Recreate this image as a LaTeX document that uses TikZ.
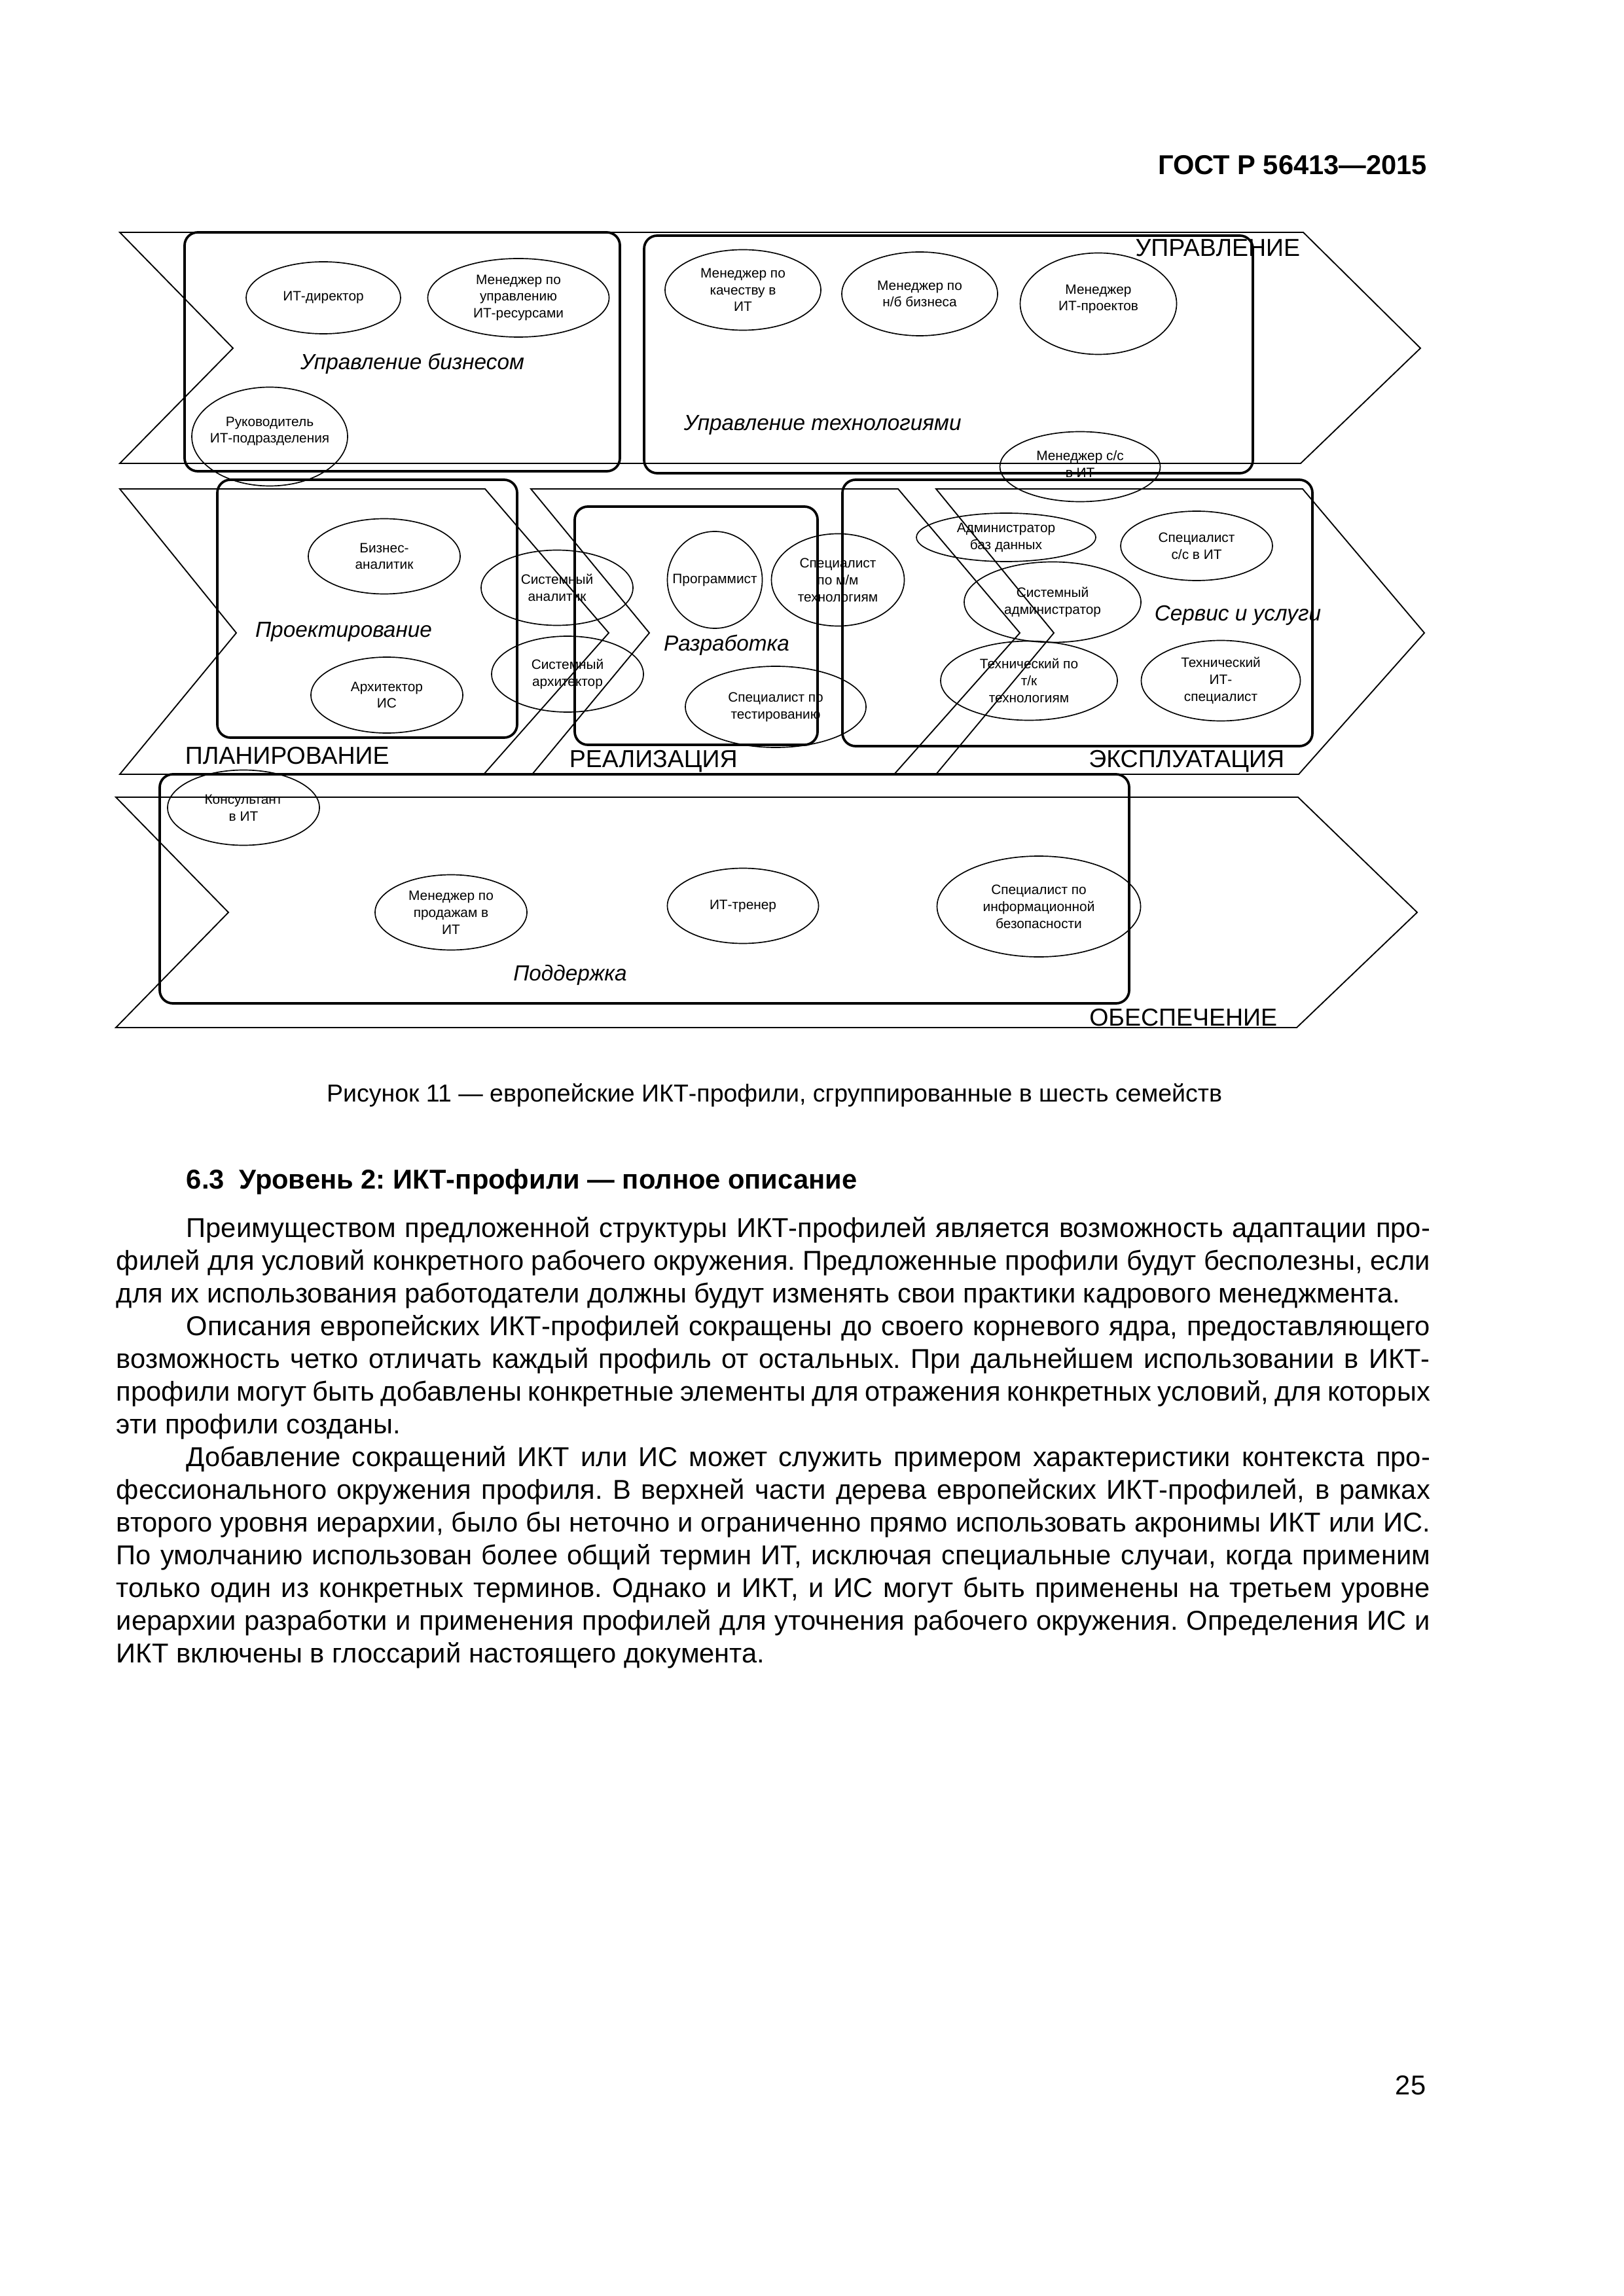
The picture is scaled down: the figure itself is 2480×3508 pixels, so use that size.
\documentclass[tikz,border=0pt]{standalone}
\usepackage{fontspec}
\setmainfont{Liberation Sans}
\usetikzlibrary{shapes.geometric}
\frenchspacing
\newcommand\prof[6][0]{%
  \node[E={#4}{#5}] (#2) at (#3) {};
  \node[ptext] (#2t) at ([yshift=#1*0.24pt]#2.center) {#6};}
\begin{document}
\begin{tikzpicture}[x=0.24pt,y=-0.24pt,
  band/.style={draw, line width=0.45pt, line join=miter},
  grp/.style={draw, line width=0.9pt, rounded corners=4.8pt},
  E/.style 2 args={ellipse, draw, line width=0.4pt, inner sep=0pt,
    minimum width=#1*0.24pt, minimum height=#2*0.24pt},
  ptext/.style={inner sep=0pt, align=center, font=\fontsize{5}{6.2}\selectfont},
  big/.style={font=\fontsize{9}{10}\selectfont, inner sep=0pt},
  fam/.style={font=\fontsize{8}{9}\selectfont\itshape, inner sep=0pt},
  body/.style={font=\fontsize{10}{12}\selectfont, inner sep=0pt, anchor=base west},
  plain/.style={font=\fontsize{10}{12}\selectfont, inner sep=0pt},
]
\useasboundingbox (0,0) rectangle (2480,3508);

% header
\node[plain, font=\fontsize{10}{12}\selectfont\bfseries, anchor=base east] (hdr) at (2181,267) {ГОСТ Р 56413—2015};

% ---------- bands ----------
\draw[band] (183,355) -- (1991,355) -- (2170,532) -- (1987,708) -- (183,708) -- (356,532) -- cycle;
\draw[band] (183,747) -- (741,747) -- (930,967) -- (739,1183) -- (183,1183) -- (361,967) -- cycle;
\draw[band] (811,747) -- (1372,747) -- (1558,967) -- (1366,1183) -- (813,1183) -- (992,967) -- cycle;
\draw[band] (1430,747) -- (1990,747) -- (2176,967) -- (1984,1183) -- (1430,1183) -- (1610,967) -- cycle;
\draw[band] (177,1218) -- (1983,1218) -- (2165,1394) -- (1981,1570) -- (177,1570) -- (349,1394) -- cycle;

% ---------- group boxes ----------
\draw[grp] (282,355) rectangle (947,720);
\draw[grp] (984,360) rectangle (1914,723);
\draw[grp] (332,733) rectangle (790,1127);
\draw[grp] (878,774) rectangle (1249,1138);
\draw[grp] (1287,733) rectangle (2005,1140);
\draw[grp] (244,1183) rectangle (1725,1533);

% ---------- band labels ----------
\node[big, anchor=base east] (lupr) at (1987,392) {УПРАВЛЕНИЕ};
\node[big, anchor=base west] (lplan) at (282,1167) {ПЛАНИРОВАНИЕ};
\node[big, anchor=base west] (lreal) at (869,1172) {РЕАЛИЗАЦИЯ};
\node[big, anchor=base east] (lexp) at (1963,1172) {ЭКСПЛУАТАЦИЯ};
\node[big, anchor=base east] (lobe) at (1952,1567) {ОБЕСПЕЧЕНИЕ};

% ---------- family labels ----------
\node[fam, anchor=base] (fbiz) at (630,565) {Управление бизнесом};
\node[fam, anchor=base west] (ftech) at (1044,658) {Управление технологиями};
\node[fam, anchor=base] (fproj) at (525,973) {Проектирование};
\node[fam, anchor=base] (fdev) at (1110,995) {Разработка};
\node[fam, anchor=base west] (fserv) at (1763,949) {Сервис и услуги};
\node[fam, anchor=base] (fsup) at (871,1498) {Поддержка};

% ---------- profiles ----------
\prof{e1}{494,455}{236}{110}{ИТ-директор}
\prof{e2}{792,455}{277}{120}{Менеджер по\\управлению\\ИТ-ресурсами}
\prof[8]{e3}{412,667}{238}{151}{Руководитель\\ИТ-подразделения}
\prof{e4}{1135,443}{238}{123}{Менеджер по\\качеству в\\ИТ}
\prof{e5}{1405,449}{238}{128}{Менеджер по\\н/б бизнеса}
\prof[7]{e6}{1678,464}{239}{155}{Менеджер\\ИТ-проектов}
\prof[4]{e7}{1650,713}{245}{107}{Менеджер с/с\\в ИТ}
\prof{e8}{587,850}{232}{115}{Бизнес-\\аналитик}
\prof{e9}{591,1062}{232}{116}{Архитектор\\ИС}
\prof{e10}{851,898}{232}{115}{Системный\\аналитик}
\prof{e11}{867,1030}{232}{116}{Системный\\архитектор}
\prof{e12}{1092,886}{145}{148}{Программист}
\prof{e13}{1280,886}{203}{141}{Специалист\\по м/м\\технологиям}
\prof{e14}{1185,1080}{276}{124}{Специалист по\\тестированию}
\prof{e15}{1537,821}{274}{74}{Администратор\\баз данных}
\prof{e16}{1828,834}{232}{106}{Специалист\\с/с в ИТ}
\prof{e17}{1608,920}{270}{123}{Системный\\администратор}
\prof{e18}{1572,1040}{270}{121}{Технический по\\т/к\\технологиям}
\prof{e19}{1865,1040}{243}{123}{Технический\\ИТ-\\специалист}
\prof{e20}{372,1234}{232}{115}{Консультант\\в ИТ}
\prof{e21}{689,1394}{232}{115}{Менеджер по\\продажам в\\ИТ}
\prof{e22}{1135,1384}{231}{115}{ИТ-тренер}
\prof{e23}{1587,1385}{311}{154}{Специалист по\\информационной\\безопасности}

% ---------- caption ----------
\node[plain, font=\fontsize{9}{11}\selectfont, anchor=base] (cap) at (1183,1683) {Рисунок 11 — европейские ИКТ-профили, сгруппированные в шесть семейств};

% ---------- heading ----------
\node[body, font=\fontsize{10}{12}\selectfont\bfseries] (h63) at (284,1816) {6.3\hspace{5.5pt}Уровень 2: ИКТ-профили — полное описание};

% ---------- body ----------
\node[body] (l1) at (284,1890) {\makebox[456pt][s]{Преимуществом предложенной структуры ИКТ-профилей является возможность адаптации про-}};
\node[body] (l2) at (177,1940) {\makebox[481.7pt][s]{филей для условий конкретного рабочего окружения. Предложенные профили будут бесполезны, если}};
\node[body] (l3) at (177,1990) {для их использования работодатели должны будут изменять свои практики кадрового менеджмента.};
\node[body] (l4) at (284,2040) {\makebox[456pt][s]{Описания европейских ИКТ-профилей сокращены до своего корневого ядра, предоставляющего}};
\node[body] (l5) at (177,2090) {\makebox[481.7pt][s]{возможность четко отличать каждый профиль от остальных. При дальнейшем использовании в ИКТ-}};
\node[body] (l6) at (177,2140) {\makebox[481.7pt][s]{профили могут быть добавлены конкретные элементы для отражения конкретных условий, для которых}};
\node[body] (l7) at (177,2190) {эти профили созданы.};
\node[body] (l8) at (284,2240) {\makebox[456pt][s]{Добавление сокращений ИКТ или ИС может служить примером характеристики контекста про-}};
\node[body] (l9) at (177,2290) {\makebox[481.7pt][s]{фессионального окружения профиля. В верхней части дерева европейских ИКТ-профилей, в рамках}};
\node[body] (l10) at (177,2340) {\makebox[481.7pt][s]{второго уровня иерархии, было бы неточно и ограниченно прямо использовать акронимы ИКТ или ИС.}};
\node[body] (l11) at (177,2390) {\makebox[481.7pt][s]{По умолчанию использован более общий термин ИТ, исключая специальные случаи, когда применим}};
\node[body] (l12) at (177,2440) {\makebox[481.7pt][s]{только один из конкретных терминов. Однако и ИКТ, и ИС могут быть применены на третьем уровне}};
\node[body] (l13) at (177,2490) {\makebox[481.7pt][s]{иерархии разработки и применения профилей для уточнения рабочего окружения. Определения ИС и}};
\node[body] (l14) at (177,2540) {ИКТ включены в глоссарий настоящего документа.};

% page number
\node[plain, anchor=base east] (pg) at (2179,3200) {25};
\end{tikzpicture}
\end{document}
